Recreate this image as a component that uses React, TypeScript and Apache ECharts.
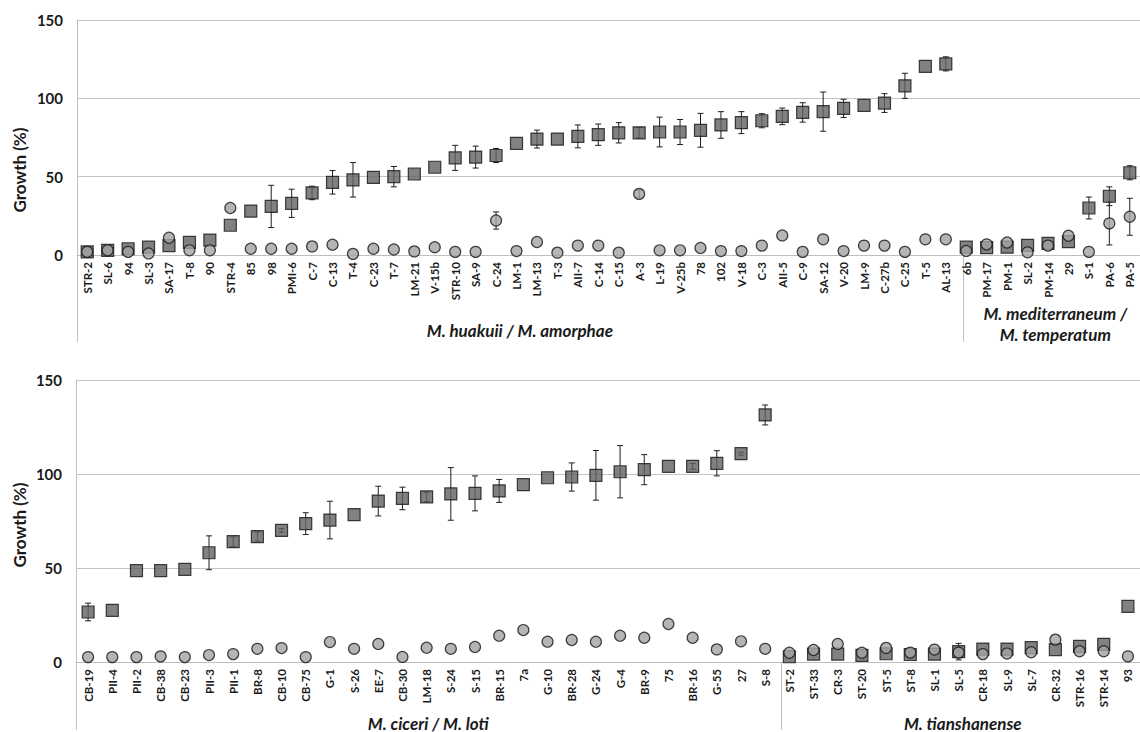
import React, { useEffect, useRef } from "react";
import * as echarts from "echarts";

// ---------- Top panel data ----------
const topCategories = [
  "STR-2", "SL-6", "94", "SL-3", "SA-17", "T-8", "90", "STR-4", "85", "98", "PMI-6", "C-7", "C-13", "T-4", "C-23", "T-7",
  "LM-21", "V-15b", "STR-10", "SA-9", "C-24", "LM-1", "LM-13", "T-3", "AII-7", "C-14", "C-15", "A-3", "L-19", "V-25b",
  "78", "102", "V-18", "C-3", "AII-5", "C-9", "SA-12", "V-20", "LM-9", "C-27b", "C-25", "T-5", "AL-13",
  "6b", "PM-17", "PM-1", "SL-2", "PM-14", "29", "S-1", "PA-6", "PA-5",
];
const topSquare = [
  2, 3, 4, 5, 6, 8, 9.5, 19, 28, 31, 33, 39.6, 46.4, 48, 49.5, 50,
  51.7, 56, 62, 62.5, 63.5, 71.3, 74, 74, 75.7, 76.8, 78, 78, 78.5, 78.5,
  79.6, 83, 84.5, 85.7, 88.5, 91, 91.5, 93.6, 95.5, 97, 108, 120.4, 122,
  5, 4.7, 5, 6.2, 7.4, 8.5, 30, 37.5, 52.5,
];
const topSquareErr = [
  0, 0, 0, 0, 0, 0, 0, 0, 0, 13.5, 9, 4.3, 7.5, 11, 0, 6.5,
  0, 0, 8, 7, 4.5, 0, 5.7, 0, 7.3, 6.8, 6.5, 3.3, 9.5, 8,
  10.8, 8.5, 7, 4.5, 5.3, 6.2, 12.5, 5.8, 0, 6, 8, 0, 4.5,
  0, 0, 0, 0, 0, 0, 7, 6, 4.5,
];
const topCircle = [
  2, 3, 2, 1, 11, 3, 3, 30, 4, 4, 4, 5.5, 6.6, 0.7, 4, 3.5,
  2.3, 5, 2, 2, 22, 2.5, 8.3, 1.5, 6, 6, 1.5, 39, 3, 3,
  4.5, 2.5, 2.5, 6, 12.5, 2, 10, 2.5, 6, 6, 2, 10, 10,
  2.6, 6.8, 8, 1.7, 6, 12.3, 2, 20.2, 24.4,
];
const topCircleErr = [
  0, 0, 0, 0, 0, 0, 0, 0, 0, 0, 0, 0, 0, 0, 0, 0,
  0, 0, 0, 0, 5.5, 0, 0, 0, 0, 0, 0, 2.5, 0, 0,
  0, 0, 0, 0, 0, 0, 0, 0, 0, 0, 0, 0, 0,
  0, 0, 0, 0, 0, 0, 0, 13.8, 11.8,
];
const topGroupNames = [["M. huakuii / M. amorphae"], ["M. mediterraneum /", "M. temperatum"]];
const topGroupSizes = [43, 9];

// ---------- Bottom panel data ----------
const bottomCategories = [
  "CB-19", "PII-4", "PII-2", "CB-38", "CB-23", "PII-3", "PII-1", "BR-8", "CB-10", "CB-75", "G-1", "S-26", "EE-7",
  "CB-30", "LM-18", "S-24", "S-15", "BR-15", "7a", "G-10", "BR-28", "G-24", "G-4", "BR-9", "75", "BR-16", "G-55",
  "27", "S-8",
  "ST-2", "ST-33", "CR-3", "ST-20", "ST-5", "ST-8", "SL-1", "SL-5", "CR-18", "SL-9", "SL-7", "CR-32", "STR-16",
  "STR-14", "93",
];
const bottomSquare = [
  26.6, 27.5, 48.6, 48.6, 49.3, 58.1, 64, 66.7, 70, 73.6, 75.5, 78.4, 85.6,
  87, 87.8, 89.4, 89.7, 91, 94.3, 98, 98.4, 99.3, 101.2, 102.3, 104.1, 104.1, 105.7,
  110.8, 131.4,
  2.8, 4.2, 4.2, 3.5, 4.4, 4, 4.2, 5.5, 6.9, 6.9, 7.6, 6.6, 8.3, 9.4, 29.6,
];
const bottomSquareErr = [
  4.7, 0, 0, 0, 0, 9, 2.5, 2.5, 1, 5.8, 10, 0, 7.9,
  6, 2.5, 14, 9.3, 6.1, 0, 0, 7.5, 13.2, 13.9, 8, 0, 1.5, 6.7,
  0.8, 5.3,
  0, 0, 0, 0, 0, 0, 0, 4.4, 0, 0, 0, 0, 0, 0, 0,
];
const bottomCircle = [
  2.6, 2.6, 2.6, 3, 2.6, 3.7, 4.2, 7, 7.4, 2.6, 10.6, 7, 9.6,
  2.7, 7.6, 7, 8, 14, 17, 10.8, 11.7, 10.8, 14, 12.9, 20.2, 12.9, 6.7,
  11, 7,
  4.9, 6.4, 9.6, 4.9, 7.5, 5, 6.6, 5, 4.2, 4.5, 5.2, 11.9, 5.7, 5.7, 3,
];
const bottomCircleErr = bottomCircle.map(() => 0);
const bottomGroupNames = [["M. ciceri / M. loti"], ["M. tianshanense"]];
const bottomGroupSizes = [29, 15];

const yTicks = [0, 50, 100, 150];
const yAxisTitle = "Growth (%)";

// ---------- Layout ----------
const FONT = "Lato";
const TOP = { left: 77, top: 20, width: 1071, height: 235, groupY: 330, groupBottom: 342, titleY: 170 };
const BOT = { left: 76, top: 380, width: 1069, height: 282, groupY: 723, groupBottom: 730, titleY: 525 };

const renderErr = (params: any, api: any) => {
  const i = api.value(0);
  const lo = api.coord([i, api.value(1)]);
  const hi = api.coord([i, api.value(2)]);
  const w = 3;
  const style = { stroke: "#1e1e1e", lineWidth: 1 };
  return {
    type: "group",
    children: [
      { type: "line", shape: { x1: lo[0], y1: lo[1], x2: hi[0], y2: hi[1] }, style },
      { type: "line", shape: { x1: lo[0] - w, y1: lo[1], x2: lo[0] + w, y2: lo[1] }, style },
      { type: "line", shape: { x1: hi[0] - w, y1: hi[1], x2: hi[0] + w, y2: hi[1] }, style },
    ],
  };
};

const errData = (vals: number[], errs: number[]) =>
  vals.map((v, i) => [i, v - errs[i], v + errs[i]]).filter((_, i) => errs[i] > 0);

function panelGraphics(L: any, names: string[][], sizes: number[]) {
  const total = sizes.reduce((a, b) => a + b, 0);
  const band = L.width / total;
  const bottom = L.top + L.height;
  const out: any[] = [];
  let start = 0;
  out.push({
    type: "line",
    shape: { x1: L.left + 0.5, y1: bottom, x2: L.left + 0.5, y2: L.groupBottom },
    style: { stroke: "#bfbfbf", lineWidth: 1 },
  });
  sizes.forEach((n, gi) => {
    const x0 = L.left + start * band;
    const x1 = L.left + (start + n) * band;
    if (gi > 0) {
      out.push({
        type: "line",
        shape: { x1: Math.round(x0) + 0.5, y1: bottom, x2: Math.round(x0) + 0.5, y2: L.groupBottom },
        style: { stroke: "#bfbfbf", lineWidth: 1 },
      });
    }
    const lines = names[gi];
    const cx = (x0 + x1) / 2;
    lines.forEach((t, li) => {
      const y = lines.length === 1 ? L.groupY : L.groupY - 17 + li * 21;
      out.push({
        type: "text",
        x: cx,
        y,
        style: {
          text: t,
          font: `italic bold 17px ${FONT}`,
          fill: "#1a1a1a",
          align: "center",
          verticalAlign: "middle",
        },
      });
    });
    start += n;
  });
  out.push({
    type: "text",
    x: 19,
    y: L.titleY,
    rotation: Math.PI / 2,
    style: {
      text: yAxisTitle,
      font: `bold 17px ${FONT}`,
      fill: "#1a1a1a",
      align: "center",
      verticalAlign: "middle",
    },
  });
  return out;
}

export default function App() {
  const ref = useRef<HTMLDivElement>(null);
  useEffect(() => {
    if (!ref.current) return;
    const chart = echarts.init(ref.current, undefined, { renderer: "svg" });

    const xAxisBase = (gi: number, data: string[]) => ({
      type: "category",
      gridIndex: gi,
      data,
      boundaryGap: true,
      axisLine: { show: true, lineStyle: { color: "#bfbfbf", width: 1 } },
      axisTick: { show: false },
      axisLabel: {
        rotate: 90,
        interval: 0,
        fontFamily: FONT,
        fontWeight: "bold",
        fontSize: 11.5,
        color: "#1a1a1a",
        margin: 7,
      },
      splitLine: { show: false },
    });
    const yAxisBase = (gi: number) => ({
      type: "value",
      gridIndex: gi,
      min: yTicks[0],
      max: yTicks[yTicks.length - 1],
      interval: yTicks[1] - yTicks[0],
      axisLine: { show: true, lineStyle: { color: "#bfbfbf", width: 1 } },
      axisTick: { show: false },
      axisLabel: { fontFamily: FONT, fontWeight: "bold", fontSize: 15, color: "#1a1a1a", margin: 14 },
      splitLine: { show: true, lineStyle: { color: "#c4c4c4", width: 1.2 } },
    });

    const squareStyle = { color: "#626262", borderColor: "#151515", borderWidth: 1.2 };
    const circleStyle = { color: "#a3a3a3", borderColor: "#151515", borderWidth: 1.2 };

    const panelSeries = (gi: number, sq: number[], sqErr: number[], ci: number[], ciErr: number[]) => [
      {
        type: "custom",
        xAxisIndex: gi,
        yAxisIndex: gi,
        renderItem: renderErr,
        encode: { x: 0, y: [1, 2] },
        data: errData(sq, sqErr),
        z: 1,
        silent: true,
      },
      {
        type: "custom",
        xAxisIndex: gi,
        yAxisIndex: gi,
        renderItem: renderErr,
        encode: { x: 0, y: [1, 2] },
        data: errData(ci, ciErr),
        z: 1,
        silent: true,
      },
      {
        type: "scatter",
        xAxisIndex: gi,
        yAxisIndex: gi,
        symbol: "rect",
        symbolSize: 12,
        itemStyle: squareStyle,
        data: sq,
        z: 2,
      },
      {
        type: "scatter",
        xAxisIndex: gi,
        yAxisIndex: gi,
        symbol: "circle",
        symbolSize: 11,
        itemStyle: circleStyle,
        data: ci,
        z: 3,
      },
    ];

    chart.setOption({
      animation: false,
      backgroundColor: "#ffffff",
      textStyle: { fontFamily: FONT },
      grid: [
        { left: TOP.left, top: TOP.top, width: TOP.width, height: TOP.height, containLabel: false },
        { left: BOT.left, top: BOT.top, width: BOT.width, height: BOT.height, containLabel: false },
      ],
      xAxis: [xAxisBase(0, topCategories), xAxisBase(1, bottomCategories)],
      yAxis: [yAxisBase(0), yAxisBase(1)],
      series: [
        ...panelSeries(0, topSquare, topSquareErr, topCircle, topCircleErr),
        ...panelSeries(1, bottomSquare, bottomSquareErr, bottomCircle, bottomCircleErr),
      ],
      graphic: [
        ...panelGraphics(TOP, topGroupNames, topGroupSizes),
        ...panelGraphics(BOT, bottomGroupNames, bottomGroupSizes),
      ],
    });
    return () => chart.dispose();
  }, []);

  return (
    <div
      ref={ref}
      style={{ position: "fixed", left: 0, top: 0, width: 1140, height: 732, background: "#fff" }}
    />
  );
}
